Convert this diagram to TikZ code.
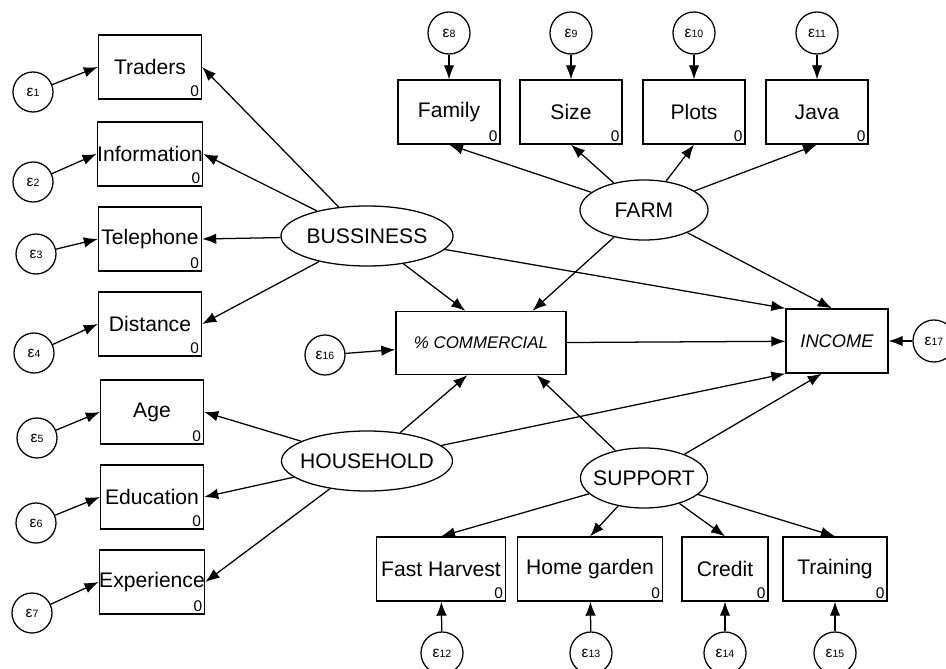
\documentclass[tikz,border=0pt]{standalone}
\usepackage{fontspec}
\setmainfont{Liberation Sans}
\usetikzlibrary{shapes.geometric, arrows.meta}

\newcommand{\errlab}[1]{\raisebox{-2pt}{{\fontsize{11}{11}\selectfont ε}{\fontsize{7.5}{8}\selectfont #1}}}

\begin{document}
\begin{tikzpicture}[x=0.025cm, y=-0.025cm,
    every node/.style={font=\fontsize{15}{17}\selectfont},
    zero/.style={anchor=south east, inner sep=2pt, font=\fontsize{11}{12}\selectfont},
    obs/.style={draw, rectangle, line width=0.9pt, inner sep=0pt,
      minimum width=2.575cm, minimum height=1.6cm, label={[zero]south east:0}},
    latent/.style={draw, ellipse, line width=0.9pt, inner sep=0pt,
      minimum width=3.2cm, minimum height=1.5cm},
    err/.style={draw, circle, line width=0.9pt, inner sep=0pt, minimum size=1.05cm},
    path/.style={line width=0.9pt, -{Latex[length=10pt, width=7.5pt]}}]

  \useasboundingbox (0, 0) rectangle (946, 669);

  %% left indicators
  \node[obs] (traders) at (150, 67) {Traders};
  \node[obs] (info) at (150, 154) {Information};
  \node[obs] (phone) at (150, 239) {Telephone};
  \node[obs] (dist) at (150, 324) {Distance};
  \node[obs] (age) at (152, 412) {Age};
  \node[obs] (edu) at (152, 497) {Education};
  \node[obs] (exper) at (152, 582) {Experience};

  \node[err, minimum size=1cm] (e1) at (33, 92) {\errlab{1}};
  \node[err, minimum size=1cm] (e2) at (33, 182) {\errlab{2}};
  \node[err, minimum size=1cm] (e3) at (36, 254) {\errlab{3}};
  \node[err, minimum size=1cm] (e4) at (34, 353) {\errlab{4}};
  \node[err, minimum size=1cm] (e5) at (37, 438) {\errlab{5}};
  \node[err, minimum size=1cm] (e6) at (36, 523) {\errlab{6}};
  \node[err, minimum size=1cm] (e7) at (32, 613) {\errlab{7}};

  %% top indicators
  \node[obs, minimum width=2.55cm] (family) at (449, 112) {Family};
  \node[obs, minimum width=2.55cm] (size) at (571, 112) {Size};
  \node[obs, minimum width=2.55cm] (plots) at (694, 112) {Plots};
  \node[obs, minimum width=2.55cm] (java) at (817, 112) {Java};

  \node[err] (e8) at (449, 33) {\errlab{8}};
  \node[err] (e9) at (571, 33) {\errlab{9}};
  \node[err] (e10) at (694, 33) {\errlab{10}};
  \node[err] (e11) at (817, 33) {\errlab{11}};

  %% bottom indicators
  \node[obs, minimum width=3.225cm] (harvest) at (441, 569) {Fast Harvest};
  \node[obs, minimum width=3.625cm] (garden) at (590, 569) {Home garden};
  \node[obs, minimum width=2.15cm] (credit) at (725, 569) {Credit};
  \node[obs, minimum width=2.6cm] (training) at (835, 569) {Training};

  \node[err] (e12) at (442, 653) {\errlab{12}};
  \node[err] (e13) at (591, 653) {\errlab{13}};
  \node[err] (e14) at (725, 653) {\errlab{14}};
  \node[err] (e15) at (835, 653) {\errlab{15}};

  %% latent variables
  \node[latent, minimum width=4.3cm] (bus) at (367, 236) {\makebox[0pt]{BUSSINESS}};
  \node[latent] (farm) at (644, 210) {\makebox[0pt]{FARM}};
  \node[latent, minimum width=4.275cm] (house) at (367, 461) {\makebox[0pt]{HOUSEHOLD}};
  \node[latent, minimum width=3.175cm] (support) at (644, 478) {\makebox[0pt]{SUPPORT}};

  %% outcomes
  \node[draw, line width=0.9pt, minimum width=4.25cm, minimum height=1.575cm,
    font=\fontsize{12}{13}\selectfont\itshape] (comm) at (481, 343) {\% COMMERCIAL};
  \node[draw, line width=0.9pt, minimum width=2.55cm, minimum height=1.6cm,
    font=\fontsize{13}{14}\selectfont\itshape] (income) at (837, 341) {INCOME};

  \node[err, minimum size=1cm] (e16) at (325, 355) {\errlab{16}};
  \node[err] (e17) at (934, 341) {\errlab{17}};

  %% measurement paths
  \draw[path] (bus) -- (traders.east);
  \draw[path] (bus) -- (info.east);
  \draw[path] (bus) -- (phone.east);
  \draw[path] (bus) -- (dist.east);
  \draw[path] (house) -- (age.east);
  \draw[path] (house) -- (edu.east);
  \draw[path] (house) -- (exper.east);
  \draw[path] (farm) -- (family.south);
  \draw[path] (farm) -- (size.south);
  \draw[path] (farm) -- (plots.south);
  \draw[path] (farm) -- (java.south);
  \draw[path] (support) -- (harvest.north);
  \draw[path] (support) -- (garden.north);
  \draw[path] (support) -- (credit.north);
  \draw[path] (support) -- (training.north);

  %% structural paths
  \draw[path] (bus) -- (comm.116);
  \draw[path] (farm) -- (comm.32);
  \draw[path] (house) -- (comm.247);
  \draw[path] (support) -- (comm.330);
  \draw[path] (bus) -- (income.north west);
  \draw[path] (farm) -- (income.99);
  \draw[path] (house) -- (income.south west);
  \draw[path] (support) -- (income.245);
  \draw[path] (comm) -- (income);

  %% error terms
  \draw[path] (e1) -- (traders.west);
  \draw[path] (e2) -- (info.west);
  \draw[path] (e3) -- (phone.west);
  \draw[path] (e4) -- (dist.west);
  \draw[path] (e5) -- (age.west);
  \draw[path] (e6) -- (edu.west);
  \draw[path] (e7) -- (exper.west);
  \draw[path] (e8) -- (family);
  \draw[path] (e9) -- (size);
  \draw[path] (e10) -- (plots);
  \draw[path] (e11) -- (java);
  \draw[path] (e12) -- (harvest);
  \draw[path] (e13) -- (garden);
  \draw[path] (e14) -- (credit);
  \draw[path] (e15) -- (training);
  \draw[path] (e16) -- (comm);
  \draw[path] (e17) -- (income);
\end{tikzpicture}
\end{document}
